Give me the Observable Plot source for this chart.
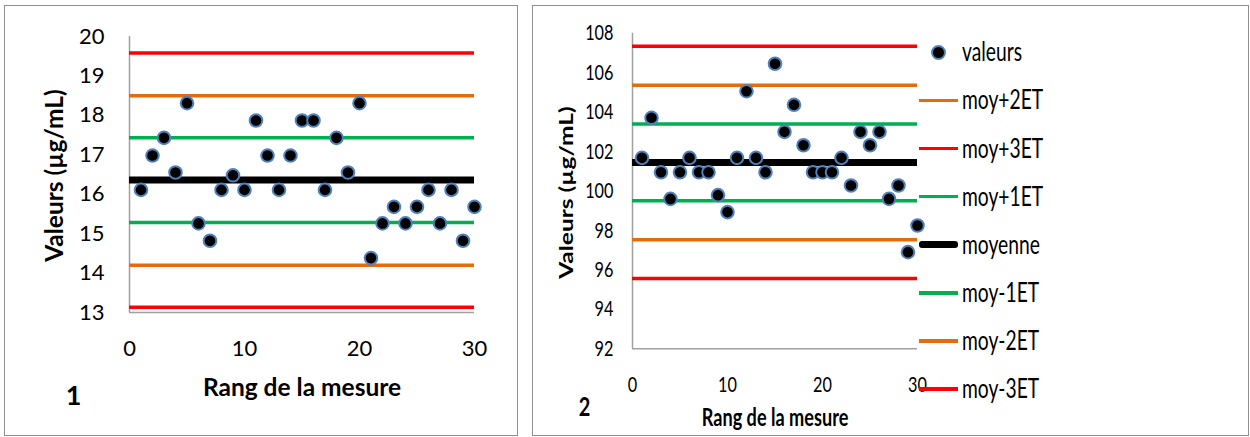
<!DOCTYPE html>
<html><head><meta charset="utf-8">
<script src="https://cdn.jsdelivr.net/npm/d3@7"></script>
<script src="https://cdn.jsdelivr.net/npm/@observablehq/plot@0.6"></script>
<style>
body{margin:0;width:1250px;height:437px;position:relative;background:#fff;font-family:Lato,sans-serif;overflow:hidden}
.panel{position:absolute;border:1.5px solid #8f8f8f;box-sizing:border-box}
.chart{position:absolute;top:0}
.lgline{position:absolute;left:919px;width:39px}
.lgdot{position:absolute;left:931px;width:11px;height:11px;border-radius:50%;background:#000;border:2px solid #4F81BD}
.lgtxt{position:absolute;left:962px;font-size:26px;line-height:26px;white-space:nowrap;transform:scaleX(0.74);transform-origin:left center}
</style></head><body>
<div class="panel" style="left:4px;top:5px;width:514px;height:431px"></div>
<div class="panel" style="left:532px;top:5px;width:717px;height:431px"></div>
<div id="c1" class="chart" style="left:0"></div>
<div id="c2" class="chart" style="left:530px"></div>
<div id="legend"></div>
<script>
const rang = [1,2,3,4,5,6,7,8,9,10,11,12,13,14,15,16,17,18,19,20,21,22,23,24,25,26,27,28,29,30];
const valeurs1 = [16.11,16.98,17.43,16.55,18.31,15.26,14.82,16.11,16.48,16.11,17.87,16.98,16.11,16.98,17.87,17.87,16.11,17.43,16.55,18.31,14.38,15.26,15.68,15.26,15.68,16.11,15.26,16.11,14.82,15.68];
const valeurs2 = [101.68,103.71,100.95,99.6,100.95,101.68,100.95,100.95,99.79,98.93,101.68,105.06,101.68,100.95,106.45,103.0,104.37,102.32,100.95,100.95,100.95,101.68,100.28,103.0,102.32,103.0,99.6,100.28,96.9,98.25];
const limNoms = ["moy+3ET","moy+2ET","moy+1ET","moyenne","moy-1ET","moy-2ET","moy-3ET"];
const limCouleurs = ["#FF0000","#E46C0A","#00B050","#000000","#00B050","#E46C0A","#FF0000"];
const limites1 = [19.58,18.5,17.43,16.36,15.28,14.2,13.13];
const limites2 = [107.34,105.36,103.4,101.44,99.5,97.53,95.57];
const ticksX = [0,10,20,30];
const ticksY1 = [13,14,15,16,17,18,19,20];
const ticksY2 = [92,94,96,98,100,102,104,106,108];
const legendeNoms = ["valeurs","moy+2ET","moy+3ET","moy+1ET","moyenne","moy-1ET","moy-2ET","moy-3ET"];
const legendeCouleurs = [null,"#E46C0A","#FF0000","#00B050","#000000","#00B050","#E46C0A","#FF0000"];
const titreY = "Valeurs (µg/mL)";
const titreX = "Rang de la mesure";

function chart(vals, lims, ticksY, yDom, m, pads, labelPos, num){
  const lim = lims.map((v,i)=>({v, nom:limNoms[i], c:limCouleurs[i], w: limNoms[i]==="moyenne"?7:3.5}));
  const pts = rang.map((r,i)=>({x:r, y:vals[i]}));
  return Plot.plot({
    width: m.w, height: 437,
    marginLeft: m.l, marginRight: m.r, marginTop: m.t, marginBottom: m.b,
    style: {fontFamily: "Lato", fontSize: "21.5px", color: "#000", background: "transparent", overflow: "visible"},
    x: {domain: [0,30]},
    y: {domain: yDom},
    color: {type: "identity"},
    marks: [
      Plot.axisX({ticks: ticksX, tickSize: 0, tickPadding: pads.x, fontSize: 22, tickFormat: "d", label: null}),
      Plot.axisY({ticks: ticksY, tickSize: 0, tickPadding: pads.y, fontSize: 22, tickFormat: "d", label: null}),
      Plot.ruleX([0], {stroke: "#a0a0a0", strokeWidth: 1.5}),
      Plot.ruleY([yDom[0]], {x1: 0, x2: 30, stroke: "#a0a0a0", strokeWidth: 1.5}),
      Plot.ruleY(lim, {y: "v", x1: 0, x2: 30, stroke: "c", strokeWidth: "w"}),
      Plot.dot(pts, {x: "x", y: "y", r: 6.3, fill: "#000", stroke: "#4F81BD", strokeWidth: 2}),
      Plot.text([titreY], {frameAnchor: "left", textAnchor: "middle", lineAnchor: "middle", dx: labelPos.ydx, dy: labelPos.ydy, rotate: -90, fontWeight: "bold", fontSize: 24.5}),
      Plot.text([titreX], {frameAnchor: "bottom", textAnchor: "middle", lineAnchor: "middle", dy: labelPos.xdy, fontWeight: "bold", fontSize: 24.5}),
      Plot.text([num], {frameAnchor: "bottom-left", textAnchor: "middle", lineAnchor: "middle", dx: labelPos.ndx, dy: labelPos.ndy, fontWeight: "bold", fontSize: 27})
    ]
  });
}

function squeeze(svg, s){
  svg.querySelectorAll("text").forEach(t=>{
    const tr = t.getAttribute("transform")||"";
    const x = parseFloat(t.getAttribute("x")||0)||0;
    const y = parseFloat(t.getAttribute("y")||0)||0;
    const sc = tr.includes("rotate") ? `scale(1,${s})` : `scale(${s},1)`;
    t.setAttribute("transform", `${tr} translate(${x},${y}) ${sc} translate(${-x},${-y})`);
  });
}

const p1 = chart(valeurs1, limites1, ticksY1, [13,20], {w:530,l:129,r:56,t:36,b:125}, {x:28,y:25}, {ydx:-74,ydy:1,xdy:76,ndx:-56,ndy:84}, "1");
document.getElementById("c1").appendChild(p1);
const p2 = chart(valeurs2, limites2, ticksY2, [92,108], {w:720,l:102,r:333,t:32.7,b:88.7}, {x:27.5,y:19}, {ydx:-65,ydy:1.5,xdy:69.5,ndx:-48,ndy:58.7}, "2");
squeeze(p2, 0.74);
document.getElementById("c2").appendChild(p2);

const lg = document.getElementById("legend");
legendeNoms.forEach((n,i)=>{
  const cy = 52.3 + i*48.1;
  const c = legendeCouleurs[i];
  if (c === null) {
    const d = document.createElement("div"); d.className="lgdot"; d.style.top=(cy-7.5)+"px"; lg.appendChild(d);
  } else {
    const h = n==="moyenne"?7:3.5;
    const l = document.createElement("div"); l.className="lgline"; l.style.top=(cy-h/2)+"px"; l.style.height=h+"px"; l.style.background=c;
    if (n==="moyenne") l.style.borderRadius="3px";
    lg.appendChild(l);
  }
  const t = document.createElement("div"); t.className="lgtxt"; t.textContent=n; t.style.top=(cy-14)+"px"; lg.appendChild(t);
});
</script>
</body></html>
